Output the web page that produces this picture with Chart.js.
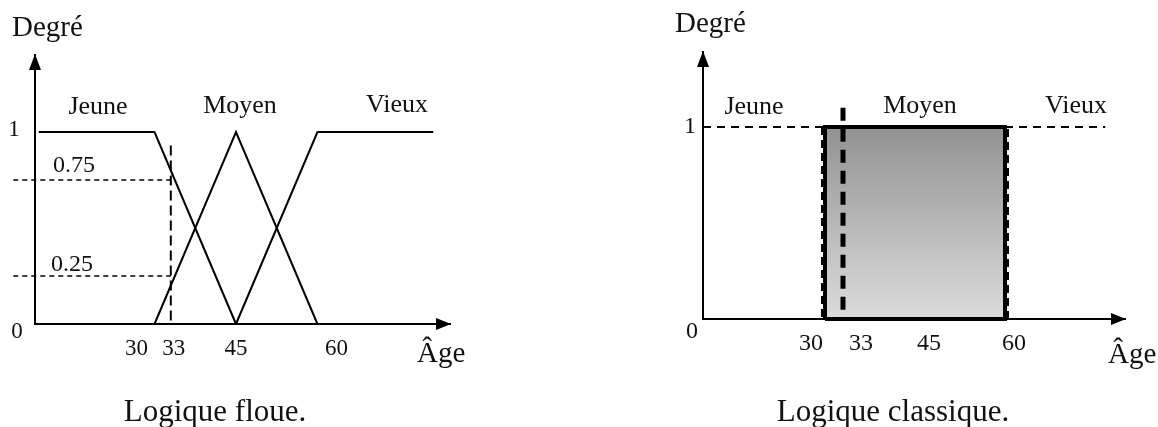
<!DOCTYPE html>
<html>
<head>
<meta charset="utf-8">
<script src="https://cdn.jsdelivr.net/npm/chart.js@4.4.0/dist/chart.umd.min.js"></script>
<style>
html, body { margin: 0; padding: 0; background: #fff; }
#wrap { position: relative; width: 1158px; height: 427px; overflow: hidden; }
.panel { position: absolute; top: 0; width: 579px; height: 427px; }
</style>
</head>
<body>
<div id="wrap">
  <div class="panel" style="left:0"><canvas id="floue" width="579" height="427"></canvas></div>
  <div class="panel" style="left:579px"><canvas id="classique" width="579" height="427"></canvas></div>
</div>
<script>
// valeurs
const ticksAge = [30, 33, 45, 60];
const ticksDeg = [0, 1];
const ensembles = ['Jeune', 'Moyen', 'Vieux'];

// logique floue
const jeuneAge = [8.7, 30, 45];
const jeuneDeg = [1, 1, 0];
const moyenAge = [30, 45, 60];
const moyenDeg = [0, 1, 0];
const vieuxAge = [45, 60, 81.3];
const vieuxDeg = [0, 1, 1];
const coupeAge = 33;
const coupeDeg = [0.75, 0.25];

// logique classique
const classJeuneAge = [9.67, 30, 30];
const classJeuneDeg = [1, 1, 0];
const classMoyenAge = [30, 30, 60, 60, 30];
const classMoyenDeg = [0, 1, 1, 0, 0];
const classVieuxAge = [60, 60, 76.7];
const classVieuxDeg = [0, 1, 1];

const pts = (xs, ys) => xs.map((x, i) => ({x: x, y: ys[i]}));
const police = '"Liberation Serif", "Times New Roman", serif';

const decor = {
    id: 'decor',
    afterDraw(chart, args, opts) {
        const ctx = chart.ctx;
        const a = chart.chartArea;
        const xs = chart.scales.x;
        const ys = chart.scales.y;
        ctx.save();
        ctx.fillStyle = '#000';
        // fleches des axes
        ctx.beginPath();
        ctx.moveTo(a.right + 1, a.bottom);
        ctx.lineTo(a.right - 14, a.bottom - 6);
        ctx.lineTo(a.right - 14, a.bottom + 6);
        ctx.closePath();
        ctx.fill();
        ctx.beginPath();
        ctx.moveTo(a.left, a.top - 1);
        ctx.lineTo(a.left - 6, a.top + 15);
        ctx.lineTo(a.left + 6, a.top + 15);
        ctx.closePath();
        ctx.fill();

        ctx.fillStyle = '#111';
        ctx.textBaseline = 'alphabetic';
        // graduations de l'age
        ctx.font = opts.tickSize + 'px ' + police;
        ctx.textAlign = 'center';
        ticksAge.forEach((v, i) => {
            ctx.fillText(String(v), xs.getPixelForValue(v) + opts.tickDx[i], opts.tickY);
        });
        // graduations du degre
        ticksDeg.forEach((v, i) => {
            ctx.fillText(String(v), opts.degX[i], ys.getPixelForValue(v) + opts.degDy[i]);
        });
        // textes libres
        opts.texts.forEach(t => {
            ctx.font = t.size + 'px ' + police;
            ctx.textAlign = t.align || 'center';
            ctx.fillText(t.s, t.x, t.y);
        });
        ctx.restore();
    }
};

function echelles(xMin, xMax, yMax) {
    const axe = {
        type: 'linear',
        grid: { display: false, drawTicks: false },
        ticks: { display: false },
        border: { display: true, color: '#000', width: 2 }
    };
    return {
        x: Object.assign({}, axe, { min: xMin, max: xMax }),
        y: Object.assign({}, axe, { min: 0, max: yMax })
    };
}

const optionsCommunes = {
    responsive: false,
    animation: false,
    events: [],
    elements: {
        point: { radius: 0 },
        line: { borderColor: '#000', borderWidth: 2, tension: 0, fill: false }
    }
};

// ---- Logique floue ----
new Chart(document.getElementById('floue'), {
    type: 'line',
    data: {
        datasets: [
            { label: ensembles[0], data: pts(jeuneAge, jeuneDeg), clip: false },
            { label: ensembles[1], data: pts(moyenAge, moyenDeg), clip: false },
            { label: ensembles[2], data: pts(vieuxAge, vieuxDeg), clip: false },
            { label: 'coupe', data: pts([coupeAge, coupeAge], [0.93, 0]), borderDash: [10, 5], clip: false },
            { label: '0.75', data: pts([4, coupeAge], [coupeDeg[0], coupeDeg[0]]), borderDash: [5, 4], borderWidth: 1.5, clip: false },
            { label: '0.25', data: pts([4, coupeAge], [coupeDeg[1], coupeDeg[1]]), borderDash: [5, 4], borderWidth: 1.5, clip: false }
        ]
    },
    options: Object.assign({}, optionsCommunes, {
        layout: { padding: { left: 35, right: 129, top: 55, bottom: 103 } },
        scales: echelles(8, 84.4, 1.401),
        plugins: {
            legend: { display: false },
            tooltip: { enabled: false },
            decor: {
                tickSize: 23,
                tickY: 355,
                tickDx: [-18, 3, 0, 19],
                degX: [17, 14],
                degDy: [14, 4],
                texts: [
                    { s: 'Degré', x: 12, y: 36, size: 29, align: 'left' },
                    { s: ensembles[0], x: 98, y: 114, size: 26 },
                    { s: ensembles[1], x: 240, y: 113, size: 26 },
                    { s: ensembles[2], x: 397, y: 112, size: 26 },
                    { s: String(coupeDeg[0]), x: 53, y: 172, size: 24, align: 'left' },
                    { s: String(coupeDeg[1]), x: 51, y: 271, size: 24, align: 'left' },
                    { s: 'Âge', x: 417, y: 362, size: 29, align: 'left' },
                    { s: 'Logique floue.', x: 215, y: 421, size: 31 }
                ]
            }
        }
    }),
    plugins: [decor]
});

// ---- Logique classique ----
function degrade(c) {
    const chart = c.chart;
    const ys = chart.scales.y;
    if (!chart.chartArea || !ys) return '#b5b5b5';
    const g = chart.ctx.createLinearGradient(0, ys.getPixelForValue(1), 0, ys.getPixelForValue(0));
    g.addColorStop(0, '#929292');
    g.addColorStop(1, '#dcdcdc');
    return g;
}

new Chart(document.getElementById('classique'), {
    type: 'line',
    data: {
        datasets: [
            { label: 'coupe', data: pts([coupeAge, coupeAge], [1.1, 0]), borderDash: [13, 8], borderWidth: 5, clip: false },
            { label: ensembles[1], data: pts(classMoyenAge, classMoyenDeg), borderWidth: 4, clip: false },
            { label: 'fond moyen', data: pts(classMoyenAge.slice(1, 3), classMoyenDeg.slice(1, 3)), borderWidth: 0, fill: 'origin', backgroundColor: degrade, clip: false },
            { label: 'bord jeune', data: pts(classJeuneAge.slice(1), classJeuneDeg.slice(1)), borderDash: [8, 5], borderWidth: 8, clip: false },
            { label: 'bord vieux', data: pts(classVieuxAge.slice(0, 2), classVieuxDeg.slice(0, 2)), borderDash: [8, 5], borderWidth: 8, clip: false },
            { label: ensembles[0], data: pts(classJeuneAge.slice(0, 2), classJeuneDeg.slice(0, 2)), borderDash: [8, 6], clip: false },
            { label: ensembles[2], data: pts(classVieuxAge.slice(1), classVieuxDeg.slice(1)), borderDash: [8, 6], clip: false }
        ]
    },
    options: Object.assign({}, optionsCommunes, {
        layout: { padding: { left: 124, right: 33, top: 52, bottom: 108 } },
        scales: echelles(9.667, 80, 1.39),
        plugins: {
            legend: { display: false },
            tooltip: { enabled: false },
            decor: {
                tickSize: 24,
                tickY: 350,
                tickDx: [-14, 18, 14, 9],
                degX: [113, 111],
                degDy: [19, 6],
                texts: [
                    { s: 'Degré', x: 96, y: 32, size: 29, align: 'left' },
                    { s: ensembles[0], x: 175, y: 114, size: 26 },
                    { s: ensembles[1], x: 341, y: 113, size: 26 },
                    { s: ensembles[2], x: 497, y: 113, size: 26 },
                    { s: 'Âge', x: 529, y: 363, size: 29, align: 'left' },
                    { s: 'Logique classique.', x: 314, y: 421, size: 31 }
                ]
            }
        }
    }),
    plugins: [decor]
});
</script>
</body>
</html>
